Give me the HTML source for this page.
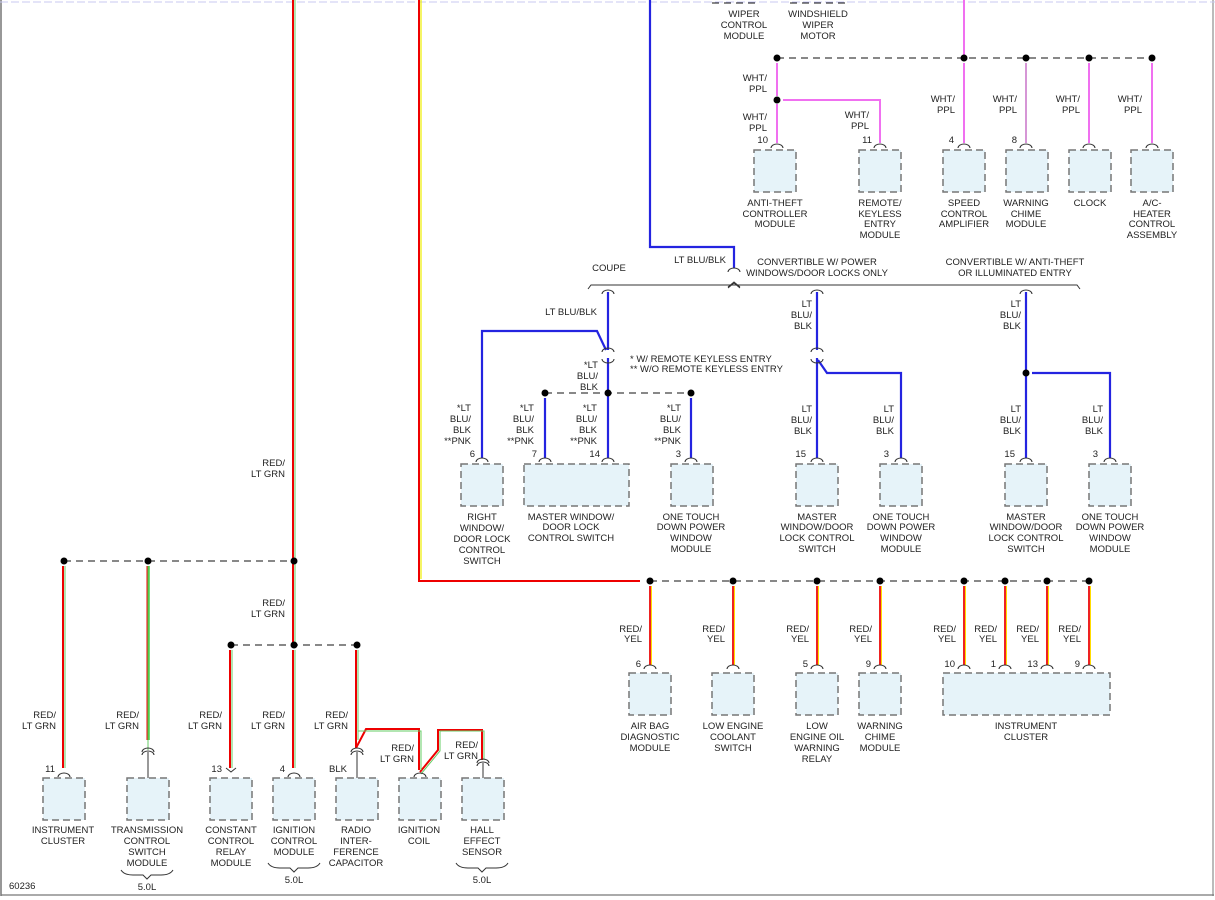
<!DOCTYPE html>
<html><head><meta charset="utf-8"><style>
html,body{margin:0;padding:0;background:#fff}
svg{display:block}
text{font-family:"Liberation Sans",Arial,sans-serif;font-size:9.5px;fill:#222}
.c{text-anchor:middle}.r{text-anchor:end}
.box{fill:#e6f3f9;stroke:#777;stroke-width:1.5;stroke-dasharray:7 4}
.bus{stroke:#111;stroke-width:1;stroke-dasharray:7 5;fill:none}
.k{fill:none;stroke:#333;stroke-width:1}
</style></head><body>
<svg width="1215" height="900" viewBox="0 0 1215 900" xmlns="http://www.w3.org/2000/svg">
<!-- border -->
<line x1="1" y1="0" x2="1" y2="896" stroke="#777" stroke-width="1.5"/>
<line x1="1" y1="895" x2="1214" y2="895" stroke="#777" stroke-width="1.2"/>
<line x1="1213" y1="0" x2="1213" y2="896" stroke="#777" stroke-width="1"/>
<line x1="0" y1="2" x2="1215" y2="2" stroke="#c8c8f0" stroke-width="1" stroke-dasharray="8 3"/>

<!-- RED/LT GRN group -->
<g fill="none">
<g stroke="#e00" stroke-width="2">
<path d="M293,0V561M293,561V645M63,566V768M230,650V768M293,650V768M356,650V748M356,748L366,729H419V770M420,772L438,750V730H482V760"/>
</g>
<g stroke="#6c6" stroke-width="1">
<path d="M295,0V561M295,561V645M65,566V768M148,566V750M232,650V768M295,650V768M358,650V740M358,731L367,731H421V770M421,774L440,751V731H484V760"/>
</g>
<line x1="147" y1="566" x2="147" y2="740" stroke="#e00" stroke-width="1"/>
<line x1="149" y1="566" x2="149" y2="740" stroke="#4c4" stroke-width="1.5"/>
</g>
<path class="bus" d="M64,561H294M231,645H357"/>
<g fill="#000"><circle cx="64" cy="561" r="3.5"/><circle cx="148" cy="561" r="3.5"/><circle cx="294" cy="561" r="3.5"/><circle cx="231" cy="645" r="3.5"/><circle cx="294" cy="645" r="3.5"/><circle cx="357" cy="645" r="3.5"/></g>
<!-- connectors bottom-left -->
<g class="k">
<path d="M58,777a6,4 0 0 1 12,0"/>
<path d="M142,755a6,4 0 0 1 12,0M142,752a6,4 0 0 1 12,0M148,752V778"/>
<path d="M226,768l5,4l5,-4"/>
<path d="M288,777a6,4 0 0 1 12,0"/>
<path d="M351,755a6,4 0 0 1 12,0M351,752a6,4 0 0 1 12,0M357,752V778"/>
<path d="M414,777a6,4 0 0 1 12,0"/>
<path d="M477,766a6,4 0 0 1 12,0M477,763a6,4 0 0 1 12,0M483,763V778"/>
</g>
<rect class="box" x="43" y="778" width="42" height="42"/>
<rect class="box" x="127" y="778" width="42" height="42"/>
<rect class="box" x="210" y="778" width="42" height="42"/>
<rect class="box" x="273" y="778" width="42" height="42"/>
<rect class="box" x="336" y="778" width="42" height="42"/>
<rect class="box" x="399" y="778" width="42" height="42"/>
<rect class="box" x="462" y="778" width="42" height="42"/>
<g class="r">
<text x="56" y="718">RED/</text><text x="56" y="729">LT GRN</text>
<text x="139" y="718">RED/</text><text x="139" y="729">LT GRN</text>
<text x="222" y="718">RED/</text><text x="222" y="729">LT GRN</text>
<text x="285" y="718">RED/</text><text x="285" y="729">LT GRN</text>
<text x="348" y="718">RED/</text><text x="348" y="729">LT GRN</text>
<text x="285" y="606">RED/</text><text x="285" y="617">LT GRN</text>
<text x="285" y="466">RED/</text><text x="285" y="477">LT GRN</text>
<text x="414" y="751">RED/</text><text x="414" y="762">LT GRN</text>
<text x="478" y="748">RED/</text><text x="478" y="759">LT GRN</text>
<text x="55" y="772">11</text><text x="222" y="772">13</text><text x="285" y="772">4</text><text x="347" y="772">BLK</text>
</g>
<g class="c">
<text x="63" y="833">INSTRUMENT</text><text x="63" y="844">CLUSTER</text>
<text x="147" y="833">TRANSMISSION</text><text x="147" y="844">CONTROL</text><text x="147" y="855">SWITCH</text><text x="147" y="866">MODULE</text>
<text x="231" y="833">CONSTANT</text><text x="231" y="844">CONTROL</text><text x="231" y="855">RELAY</text><text x="231" y="866">MODULE</text>
<text x="294" y="833">IGNITION</text><text x="294" y="844">CONTROL</text><text x="294" y="855">MODULE</text>
<text x="356" y="833">RADIO</text><text x="356" y="844">INTER-</text><text x="356" y="855">FERENCE</text><text x="356" y="866">CAPACITOR</text>
<text x="419" y="833">IGNITION</text><text x="419" y="844">COIL</text>
<text x="482" y="833">HALL</text><text x="482" y="844">EFFECT</text><text x="482" y="855">SENSOR</text>
<text x="147" y="890">5.0L</text><text x="294" y="883">5.0L</text><text x="482" y="883">5.0L</text>
</g>
<text x="9" y="889">60236</text>
<g class="k">
<path d="M121,870q3,5 12,5h10l4,4l4,-4h10q9,0 12,-5"/>
<path d="M268,863q3,5 12,5h10l4,4l4,-4h10q9,0 12,-5"/>
<path d="M456,863q3,5 12,5h10l4,4l4,-4h10q9,0 12,-5"/>
</g>

<!-- RED/YEL group -->
<g fill="none">
<path d="M419,0V581H640" stroke="#e00" stroke-width="2"/>
<path d="M421,0V579" stroke="#ee0" stroke-width="1.2"/>
<g stroke="#e22" stroke-width="2"><path d="M650,586V665M733,586V665M817,586V665M880,586V665M964,586V665M1005,586V665M1047,586V665M1089,586V665"/></g>
<g stroke="#fd0" stroke-width="1"><path d="M651.5,586V665M734.5,586V665M818.5,586V665M881.5,586V665M965.5,586V665M1006.5,586V665M1048.5,586V665M1090.5,586V665"/></g>
</g>
<path class="bus" d="M650,581H1089"/>
<g fill="#000"><circle cx="650" cy="581" r="3.5"/><circle cx="733" cy="581" r="3.5"/><circle cx="817" cy="581" r="3.5"/><circle cx="880" cy="581" r="3.5"/><circle cx="964" cy="581" r="3.5"/><circle cx="1005" cy="581" r="3.5"/><circle cx="1047" cy="581" r="3.5"/><circle cx="1089" cy="581" r="3.5"/></g>
<g class="k"><path d="M644,669a6,4 0 0 1 12,0M727,669a6,4 0 0 1 12,0M811,669a6,4 0 0 1 12,0M874,669a6,4 0 0 1 12,0M958,669a6,4 0 0 1 12,0M999,669a6,4 0 0 1 12,0M1041,669a6,4 0 0 1 12,0M1083,669a6,4 0 0 1 12,0"/></g>
<rect class="box" x="629" y="673" width="42" height="42"/>
<rect class="box" x="712" y="673" width="42" height="42"/>
<rect class="box" x="796" y="673" width="42" height="42"/>
<rect class="box" x="859" y="673" width="42" height="42"/>
<rect class="box" x="943" y="673" width="167" height="42"/>
<g class="r">
<text x="642" y="632">RED/</text><text x="642" y="642">YEL</text>
<text x="725" y="632">RED/</text><text x="725" y="642">YEL</text>
<text x="809" y="632">RED/</text><text x="809" y="642">YEL</text>
<text x="872" y="632">RED/</text><text x="872" y="642">YEL</text>
<text x="956" y="632">RED/</text><text x="956" y="642">YEL</text>
<text x="997" y="632">RED/</text><text x="997" y="642">YEL</text>
<text x="1039" y="632">RED/</text><text x="1039" y="642">YEL</text>
<text x="1081" y="632">RED/</text><text x="1081" y="642">YEL</text>
<text x="641" y="667">6</text><text x="808" y="667">5</text><text x="871" y="667">9</text><text x="955" y="667">10</text><text x="996" y="667">1</text><text x="1038" y="667">13</text><text x="1080" y="667">9</text>
</g>
<g class="c">
<text x="650" y="729">AIR BAG</text><text x="650" y="740">DIAGNOSTIC</text><text x="650" y="751">MODULE</text>
<text x="733" y="729">LOW ENGINE</text><text x="733" y="740">COOLANT</text><text x="733" y="751">SWITCH</text>
<text x="817" y="729">LOW</text><text x="817" y="740">ENGINE OIL</text><text x="817" y="751">WARNING</text><text x="817" y="762">RELAY</text>
<text x="880" y="729">WARNING</text><text x="880" y="740">CHIME</text><text x="880" y="751">MODULE</text>
<text x="1026" y="729">INSTRUMENT</text><text x="1026" y="740">CLUSTER</text>
</g>

<!-- LT BLU/BLK group -->
<g fill="none" stroke="#2424e0" stroke-width="2.2">
<path d="M650,0V247H734V268"/>
<path d="M608,292V350M608,358V458M482,458V331H597L606,350M545,398V458M691,398V458"/>
<path d="M817,292V350M817,358V458M818,360L827,373H901V458"/>
<path d="M1026,292V458M1032,373H1110V458"/>
</g>
<path d="M588,289l3,-4H1077l3,4" class="k"/>
<path d="M728,288l6,-5l6,5" class="k" stroke="#fff" stroke-width="3"/>
<path d="M728,287l6,-5l6,5" class="k"/>
<path d="M728,272a6,4 0 0 1 12,0" class="k"/>
<g class="k">
<path d="M602,294a6,4 0 0 1 12,0M602,352a6,4 0 0 1 12,0M602,359a6,-4 0 0 0 12,0"/>
<path d="M811,294a6,4 0 0 1 12,0M811,352a6,4 0 0 1 12,0M811,359a6,-4 0 0 0 12,0"/>
<path d="M1020,294a6,4 0 0 1 12,0"/>
<path d="M476,462a6,4 0 0 1 12,0M539,462a6,4 0 0 1 12,0M602,462a6,4 0 0 1 12,0M685,462a6,4 0 0 1 12,0"/>
<path d="M811,462a6,4 0 0 1 12,0M895,462a6,4 0 0 1 12,0M1020,462a6,4 0 0 1 12,0M1104,462a6,4 0 0 1 12,0"/>
</g>
<path class="bus" d="M545,393H691"/>
<g fill="#000"><circle cx="545" cy="393" r="3.5"/><circle cx="608" cy="393" r="3.5"/><circle cx="691" cy="393" r="3.5"/><circle cx="1026" cy="373" r="3.5"/></g>
<rect class="box" x="461" y="464" width="42" height="42"/>
<rect class="box" x="524" y="464" width="105" height="42"/>
<rect class="box" x="671" y="464" width="42" height="42"/>
<rect class="box" x="796" y="464" width="42" height="42"/>
<rect class="box" x="880" y="464" width="42" height="42"/>
<rect class="box" x="1005" y="464" width="42" height="42"/>
<rect class="box" x="1089" y="464" width="42" height="42"/>
<text x="726" y="263" class="r">LT BLU/BLK</text>
<text x="609" y="271" class="c">COUPE</text>
<text x="817" y="265" class="c">CONVERTIBLE W/ POWER</text><text x="817" y="276" class="c">WINDOWS/DOOR LOCKS ONLY</text>
<text x="1015" y="265" class="c">CONVERTIBLE W/ ANTI-THEFT</text><text x="1015" y="276" class="c">OR ILLUMINATED ENTRY</text>
<text x="597" y="315" class="r">LT BLU/BLK</text>
<text x="630" y="362">* W/ REMOTE KEYLESS ENTRY</text>
<text x="630" y="372">** W/O REMOTE KEYLESS ENTRY</text>
<g class="r">
<text x="598" y="368">*LT</text><text x="598" y="379">BLU/</text><text x="598" y="390">BLK</text>
<text x="471" y="411">*LT</text><text x="471" y="422">BLU/</text><text x="471" y="433">BLK</text><text x="471" y="444">**PNK</text>
<text x="534" y="411">*LT</text><text x="534" y="422">BLU/</text><text x="534" y="433">BLK</text><text x="534" y="444">**PNK</text>
<text x="597" y="411">*LT</text><text x="597" y="422">BLU/</text><text x="597" y="433">BLK</text><text x="597" y="444">**PNK</text>
<text x="681" y="411">*LT</text><text x="681" y="422">BLU/</text><text x="681" y="433">BLK</text><text x="681" y="444">**PNK</text>
<text x="475" y="457">6</text><text x="537" y="457">7</text><text x="600" y="457">14</text><text x="681" y="457">3</text>
<text x="812" y="307">LT</text><text x="812" y="318">BLU/</text><text x="812" y="329">BLK</text>
<text x="812" y="412">LT</text><text x="812" y="423">BLU/</text><text x="812" y="434">BLK</text>
<text x="894" y="412">LT</text><text x="894" y="423">BLU/</text><text x="894" y="434">BLK</text>
<text x="1021" y="307">LT</text><text x="1021" y="318">BLU/</text><text x="1021" y="329">BLK</text>
<text x="1021" y="412">LT</text><text x="1021" y="423">BLU/</text><text x="1021" y="434">BLK</text>
<text x="1103" y="412">LT</text><text x="1103" y="423">BLU/</text><text x="1103" y="434">BLK</text>
<text x="806" y="457">15</text><text x="889" y="457">3</text><text x="1015" y="457">15</text><text x="1098" y="457">3</text>
</g>
<g class="c">
<text x="482" y="520">RIGHT</text><text x="482" y="531">WINDOW/</text><text x="482" y="542">DOOR LOCK</text><text x="482" y="553">CONTROL</text><text x="482" y="564">SWITCH</text>
<text x="571" y="520">MASTER WINDOW/</text><text x="571" y="530">DOOR LOCK</text><text x="571" y="541">CONTROL SWITCH</text>
<text x="691" y="520">ONE TOUCH</text><text x="691" y="530">DOWN POWER</text><text x="691" y="541">WINDOW</text><text x="691" y="552">MODULE</text>
<text x="817" y="520">MASTER</text><text x="817" y="530">WINDOW/DOOR</text><text x="817" y="541">LOCK CONTROL</text><text x="817" y="552">SWITCH</text>
<text x="901" y="520">ONE TOUCH</text><text x="901" y="530">DOWN POWER</text><text x="901" y="541">WINDOW</text><text x="901" y="552">MODULE</text>
<text x="1026" y="520">MASTER</text><text x="1026" y="530">WINDOW/DOOR</text><text x="1026" y="541">LOCK CONTROL</text><text x="1026" y="552">SWITCH</text>
<text x="1110" y="520">ONE TOUCH</text><text x="1110" y="530">DOWN POWER</text><text x="1110" y="541">WINDOW</text><text x="1110" y="552">MODULE</text>
</g>

<!-- WHT/PPL group -->
<g fill="none" stroke="#f070f0" stroke-width="2">
<path d="M964,0V58M964,63V143M777,63V96M777,104V143M783,100H880V143M1026,63V143M1089,63V143M1152,63V143"/>
</g>
<path d="M1026,63V143" stroke="#bbb" stroke-width="1" fill="none"/>
<path class="bus" d="M777,58H1152"/>
<path class="bus" d="M712,3H760M790,3H850" stroke="#888"/>
<g fill="#000"><circle cx="777" cy="58" r="3.5"/><circle cx="964" cy="58" r="3.5"/><circle cx="1026" cy="58" r="3.5"/><circle cx="1089" cy="58" r="3.5"/><circle cx="1152" cy="58" r="3.5"/><circle cx="777" cy="100" r="3.5"/></g>
<g class="k"><path d="M771,148a6,4 0 0 1 12,0M874,148a6,4 0 0 1 12,0M958,148a6,4 0 0 1 12,0M1020,148a6,4 0 0 1 12,0M1083,148a6,4 0 0 1 12,0M1146,148a6,4 0 0 1 12,0"/></g>
<rect class="box" x="754" y="150" width="42" height="42"/>
<rect class="box" x="859" y="150" width="42" height="42"/>
<rect class="box" x="943" y="150" width="42" height="42"/>
<rect class="box" x="1006" y="150" width="42" height="42"/>
<rect class="box" x="1069" y="150" width="42" height="42"/>
<rect class="box" x="1131" y="150" width="42" height="42"/>
<g class="r">
<text x="767" y="81">WHT/</text><text x="767" y="92">PPL</text>
<text x="767" y="120">WHT/</text><text x="767" y="131">PPL</text>
<text x="869" y="118">WHT/</text><text x="869" y="129">PPL</text>
<text x="955" y="102">WHT/</text><text x="955" y="113">PPL</text>
<text x="1017" y="102">WHT/</text><text x="1017" y="113">PPL</text>
<text x="1080" y="102">WHT/</text><text x="1080" y="113">PPL</text>
<text x="1142" y="102">WHT/</text><text x="1142" y="113">PPL</text>
<text x="768" y="143">10</text><text x="872" y="143">11</text><text x="954" y="143">4</text><text x="1017" y="143">8</text>
</g>
<g class="c">
<text x="744" y="17">WIPER</text><text x="744" y="28">CONTROL</text><text x="744" y="39">MODULE</text>
<text x="818" y="17">WINDSHIELD</text><text x="818" y="28">WIPER</text><text x="818" y="39">MOTOR</text>
<text x="775" y="206">ANTI-THEFT</text><text x="775" y="217">CONTROLLER</text><text x="775" y="227">MODULE</text>
<text x="880" y="206">REMOTE/</text><text x="880" y="217">KEYLESS</text><text x="880" y="227">ENTRY</text><text x="880" y="238">MODULE</text>
<text x="964" y="206">SPEED</text><text x="964" y="217">CONTROL</text><text x="964" y="227">AMPLIFIER</text>
<text x="1026" y="206">WARNING</text><text x="1026" y="217">CHIME</text><text x="1026" y="227">MODULE</text>
<text x="1090" y="206">CLOCK</text>
<text x="1152" y="206">A/C-</text><text x="1152" y="217">HEATER</text><text x="1152" y="227">CONTROL</text><text x="1152" y="238">ASSEMBLY</text>
</g>
</svg>
</body></html>
